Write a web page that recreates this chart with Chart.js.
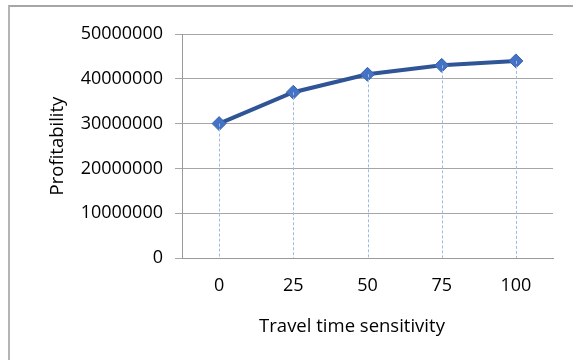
<!DOCTYPE html>
<html>
<head>
<meta charset="utf-8">
<script src="https://cdn.jsdelivr.net/npm/chart.js@4"></script>
<style>
  html, body { margin: 0; padding: 0; background: #fff; }
  #wrap { position: relative; width: 573px; height: 360px; overflow: hidden; }
  #frame { position: absolute; left: 8px; top: 5px; width: 600px; height: 400px;
           border-left: 2px solid #b4b4b4; border-top: 2px solid #a6a6a6; box-sizing: border-box; }
  canvas { position: absolute; left: 0; top: 0; }
</style>
</head>
<body>
<div id="wrap">
  <div id="frame"></div>
  <canvas id="c" width="573" height="360"></canvas>
</div>
<script>
const categories = ["0", "25", "50", "75", "100"];
const profitability = [30000000, 37000000, 41000000, 43000000, 44000000];
const yTicks = [0, 10000000, 20000000, 30000000, 40000000, 50000000];
const xTitle = "Travel time sensitivity";
const yTitle = "Profitability";

const FONT = "'Open Sans', 'Liberation Sans', sans-serif";

const dropLines = {
  id: 'dropLines',
  afterDatasetsDraw(chart) {
    const ctx = chart.ctx;
    const meta = chart.getDatasetMeta(0);
    const yBase = chart.scales.y.getPixelForValue(0);
    ctx.save();
    ctx.strokeStyle = '#9dbbe6';
    ctx.lineWidth = 1;
    ctx.setLineDash([3, 2]);
    meta.data.forEach(pt => {
      const x = Math.round(pt.x) + 0.5;
      ctx.beginPath();
      ctx.moveTo(x, pt.y);
      ctx.lineTo(x, yBase);
      ctx.stroke();
    });
    ctx.restore();
  }
};

const xTitlePlugin = {
  id: 'xTitlePlugin',
  afterDraw(chart) {
    const ctx = chart.ctx;
    ctx.save();
    ctx.font = "18.5px " + FONT;
    ctx.fillStyle = '#000';
    ctx.textAlign = 'center';
    ctx.textBaseline = 'middle';
    ctx.fillText(xTitle, 352, 327);
    ctx.restore();
  }
};

new Chart(document.getElementById('c'), {
  type: 'line',
  data: {
    labels: categories,
    datasets: [{
      data: profitability,
      borderColor: '#2f5597',
      borderWidth: 4,
      tension: 0,
      pointStyle: 'rectRot',
      pointRadius: 7,
      pointHoverRadius: 7,
      pointBackgroundColor: '#4472c4',
      pointBorderColor: '#3a64ad',
      pointBorderWidth: 1
    }]
  },
  options: {
    responsive: false,
    animation: false,
    devicePixelRatio: 1,
    layout: { padding: { left: 0, top: 34, right: 20, bottom: 0 } },
    plugins: { legend: { display: false }, tooltip: { enabled: false } },
    scales: {
      x: {
        offset: true,
        grid: { display: false, drawTicks: false },
        border: { display: true, color: '#999999', width: 1 },
        ticks: { color: '#000', font: { family: FONT, size: 18 }, padding: 17, maxRotation: 0 },
        title: { display: false },
        afterFit(scale) { scale.height = 102; }
      },
      y: {
        min: 0, max: 50000000,
        afterBuildTicks(scale) { scale.ticks = yTicks.map(v => ({ value: v })); },
        grid: { color: '#a6a6a6', lineWidth: 1, tickLength: 7, drawTicks: true },
        border: { display: true, color: '#999999', width: 1 },
        ticks: { color: '#000', font: { family: FONT, size: 18 }, padding: 12,
                 callback: v => String(v) },
        title: { display: true, text: yTitle, color: '#000', font: { family: FONT, size: 18.5 }, padding: { top: 47, bottom: 0 } },
        afterFit(scale) { scale.width = 182; }
      }
    }
  },
  plugins: [dropLines, xTitlePlugin]
});
</script>
</body>
</html>
